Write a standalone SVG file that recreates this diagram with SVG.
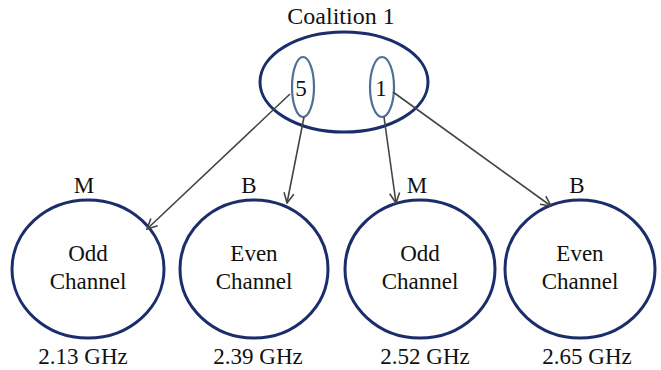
<svg xmlns="http://www.w3.org/2000/svg" width="661" height="370" viewBox="0 0 661 370">
<style>
text{font-family:"Liberation Serif","Times New Roman",serif;fill:#111;text-anchor:middle}
.t{font-size:23px}
.h{font-size:24px}
.big{fill:none;stroke:#1c2d6b;stroke-width:3}
.small{fill:none;stroke:#4f6f98;stroke-width:2.2}
.c{stroke:#444;stroke-width:1.6;fill:none;marker-end:url(#ah)}
</style>
<defs>
<marker id="ah" viewBox="0 0 12 12" refX="11" refY="6" markerWidth="12" markerHeight="12" markerUnits="userSpaceOnUse" orient="auto">
<path d="M1,1 L11,6 L1,11" fill="none" stroke="#444" stroke-width="1.6"/>
</marker>
</defs>
<rect width="661" height="370" fill="#fff"/>
<g id="coalition">
<text class="h" x="341" y="24">Coalition 1</text>
<ellipse class="big" cx="344" cy="82" rx="84" ry="50"/>
</g>
<g id="agent5">
<ellipse class="small" cx="303" cy="87" rx="11" ry="30"/>
<text class="t" x="301" y="96">5</text>
</g>
<g id="agent1">
<ellipse class="small" cx="382" cy="87" rx="12" ry="30"/>
<text class="t" x="381" y="96">1</text>
</g>
<g id="ch1">
<text class="t" x="84" y="193">M</text>
<ellipse class="big" cx="88" cy="269" rx="76" ry="69"/>
<text class="t" x="88" y="261">Odd</text>
<text class="t" x="88" y="289">Channel</text>
<text class="t" x="83" y="364">2.13 GHz</text>
</g>
<g id="ch2">
<text class="t" x="249" y="193">B</text>
<ellipse class="big" cx="254" cy="269" rx="74" ry="69"/>
<text class="t" x="254" y="261">Even</text>
<text class="t" x="254" y="289">Channel</text>
<text class="t" x="258" y="364">2.39 GHz</text>
</g>
<g id="ch3">
<text class="t" x="417" y="193">M</text>
<ellipse class="big" cx="420" cy="269" rx="75" ry="69"/>
<text class="t" x="420" y="261">Odd</text>
<text class="t" x="420" y="289">Channel</text>
<text class="t" x="425" y="364">2.52 GHz</text>
</g>
<g id="ch4">
<text class="t" x="577" y="193">B</text>
<ellipse class="big" cx="580" cy="269" rx="75" ry="69"/>
<text class="t" x="580" y="261">Even</text>
<text class="t" x="580" y="289">Channel</text>
<text class="t" x="587" y="364">2.65 GHz</text>
</g>
<g id="connectors">
<line class="c" x1="290" y1="94" x2="147" y2="229"/>
<line class="c" x1="304" y1="117" x2="287" y2="203"/>
<line class="c" x1="384" y1="117" x2="396" y2="203"/>
<line class="c" x1="393" y1="92" x2="551" y2="206"/>
</g>
</svg>
